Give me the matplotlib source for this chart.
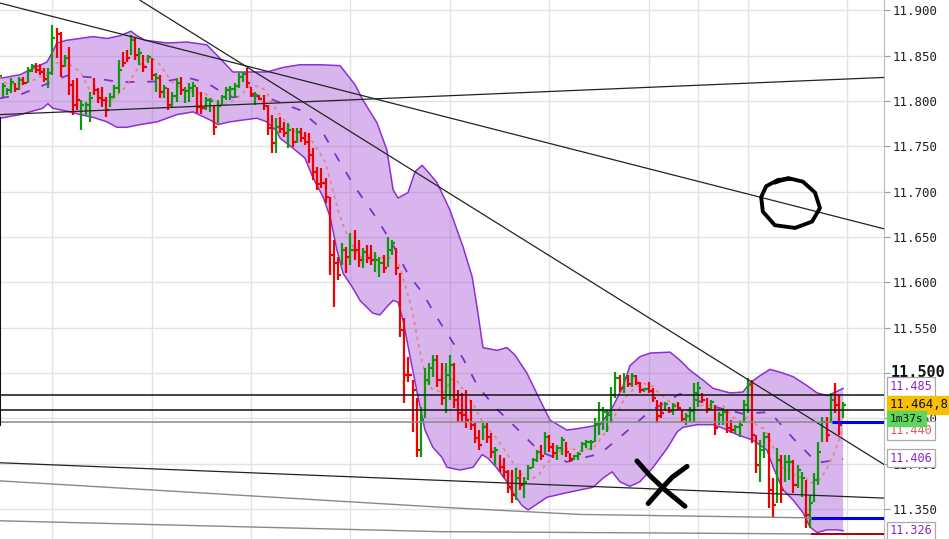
import numpy as np
import pandas as pd
import matplotlib
matplotlib.use("Agg")
import matplotlib.pyplot as plt
from matplotlib import transforms

plt.rcParams['font.family'] = ['DejaVu Sans Mono', 'DejaVu Sans']

# ---- OHLC bars (index k, the first one at k=-1 is cut by the left edge)
highs = [
    11.829, 11.820, 11.814, 11.825, 11.820, 11.826, 11.826, 11.837, 11.841, 11.842,
    11.841, 11.836, 11.836, 11.884, 11.880, 11.876, 11.851, 11.860, 11.823, 11.825,
    11.801, 11.799, 11.810, 11.825, 11.814, 11.815, 11.804, 11.809, 11.818, 11.845,
    11.854, 11.856, 11.873, 11.869, 11.858, 11.851, 11.851, 11.847, 11.831, 11.829,
    11.818, 11.814, 11.810, 11.825, 11.826, 11.815, 11.820, 11.821, 11.815, 11.810,
    11.804, 11.803, 11.796, 11.801, 11.807, 11.815, 11.817, 11.820, 11.831, 11.832,
    11.836, 11.815, 11.810, 11.807, 11.807, 11.796, 11.785, 11.781, 11.782, 11.777,
    11.776, 11.770, 11.770, 11.770, 11.766, 11.765, 11.748, 11.727, 11.726, 11.715,
    11.694, 11.647, 11.628, 11.643, 11.639, 11.654, 11.658, 11.647, 11.638, 11.641,
    11.641, 11.633, 11.628, 11.630, 11.650, 11.647, 11.638, 11.610, 11.561, 11.518,
    11.492, 11.472, 11.463, 11.506, 11.511, 11.520, 11.520, 11.511, 11.511, 11.520,
    11.511, 11.481, 11.478, 11.481, 11.470, 11.445, 11.437, 11.445, 11.445, 11.434,
    11.418, 11.410, 11.406, 11.393, 11.393, 11.395, 11.393, 11.385, 11.399, 11.406,
    11.415, 11.421, 11.435, 11.432, 11.423, 11.421, 11.429, 11.424, 11.412, 11.410,
    11.413, 11.424, 11.426, 11.426, 11.450, 11.468, 11.463, 11.459, 11.485, 11.501,
    11.498, 11.500, 11.498, 11.500, 11.498, 11.490, 11.483, 11.490, 11.483, 11.470,
    11.468, 11.468, 11.463, 11.467, 11.468, 11.459, 11.456, 11.463, 11.489, 11.490,
    11.478, 11.472, 11.470, 11.465, 11.457, 11.461, 11.459, 11.448, 11.443, 11.446,
    11.470, 11.494, 11.492, 11.432, 11.426, 11.435, 11.434, 11.384, 11.417, 11.410,
    11.410, 11.410, 11.404, 11.399, 11.391, 11.382, 11.365, 11.390, 11.424, 11.451,
    11.451, 11.478, 11.489, 11.476, 11.468,
]
lows = [
    11.823, 11.804, 11.807, 11.809, 11.810, 11.812, 11.818, 11.820, 11.832, 11.831,
    11.829, 11.821, 11.814, 11.829, 11.847, 11.826, 11.837, 11.807, 11.785, 11.790,
    11.768, 11.785, 11.777, 11.807, 11.798, 11.793, 11.782, 11.793, 11.803, 11.809,
    11.837, 11.843, 11.851, 11.845, 11.840, 11.832, 11.842, 11.823, 11.810, 11.803,
    11.803, 11.790, 11.793, 11.799, 11.807, 11.798, 11.799, 11.804, 11.787, 11.786,
    11.790, 11.788, 11.762, 11.776, 11.796, 11.801, 11.801, 11.804, 11.814, 11.821,
    11.814, 11.804, 11.796, 11.801, 11.790, 11.762, 11.743, 11.743, 11.765, 11.760,
    11.748, 11.749, 11.754, 11.755, 11.751, 11.732, 11.713, 11.702, 11.704, 11.688,
    11.608, 11.573, 11.603, 11.619, 11.610, 11.619, 11.625, 11.617, 11.616, 11.621,
    11.619, 11.611, 11.606, 11.610, 11.617, 11.630, 11.608, 11.540, 11.467, 11.490,
    11.435, 11.407, 11.407, 11.450, 11.487, 11.496, 11.485, 11.465, 11.456, 11.470,
    11.461, 11.446, 11.446, 11.439, 11.437, 11.423, 11.415, 11.426, 11.423, 11.406,
    11.399, 11.391, 11.384, 11.368, 11.357, 11.360, 11.371, 11.362, 11.382, 11.395,
    11.402, 11.404, 11.412, 11.413, 11.406, 11.404, 11.410, 11.407, 11.402, 11.404,
    11.404, 11.413, 11.417, 11.415, 11.424, 11.432, 11.437, 11.435, 11.446, 11.472,
    11.479, 11.478, 11.485, 11.485, 11.487, 11.478, 11.479, 11.478, 11.468, 11.445,
    11.450, 11.459, 11.456, 11.454, 11.459, 11.446, 11.443, 11.446, 11.446, 11.463,
    11.467, 11.456, 11.459, 11.432, 11.443, 11.443, 11.434, 11.434, 11.434, 11.429,
    11.445, 11.456, 11.423, 11.390, 11.380, 11.406, 11.351, 11.341, 11.357, 11.357,
    11.380, 11.382, 11.368, 11.373, 11.363, 11.329, 11.329, 11.358, 11.376, 11.424,
    11.424, 11.445, 11.456, 11.432, 11.450,
]
closes = [
    11.828, 11.817, 11.812, 11.821, 11.813, 11.823, 11.820, 11.833, 11.839, 11.834,
    11.832, 11.824, 11.831, 11.869, 11.874, 11.839, 11.847, 11.818, 11.796, 11.801,
    11.796, 11.796, 11.803, 11.812, 11.803, 11.801, 11.790, 11.804, 11.814, 11.834,
    11.842, 11.847, 11.867, 11.851, 11.853, 11.837, 11.848, 11.829, 11.825, 11.810,
    11.814, 11.796, 11.806, 11.820, 11.812, 11.811, 11.814, 11.817, 11.793, 11.792,
    11.801, 11.800, 11.771, 11.795, 11.804, 11.812, 11.813, 11.817, 11.826, 11.830,
    11.820, 11.808, 11.807, 11.802, 11.795, 11.770, 11.754, 11.771, 11.769, 11.765,
    11.768, 11.755, 11.766, 11.759, 11.755, 11.740, 11.722, 11.708, 11.710, 11.694,
    11.630, 11.621, 11.608, 11.636, 11.628, 11.636, 11.636, 11.625, 11.633, 11.627,
    11.625, 11.625, 11.621, 11.616, 11.636, 11.643, 11.616, 11.547, 11.498, 11.498,
    11.481, 11.415, 11.448, 11.492, 11.506, 11.514, 11.492, 11.472, 11.498, 11.509,
    11.470, 11.456, 11.454, 11.448, 11.443, 11.428, 11.421, 11.440, 11.429, 11.413,
    11.415, 11.396, 11.391, 11.374, 11.365, 11.384, 11.376, 11.380, 11.395, 11.404,
    11.413, 11.408, 11.429, 11.418, 11.412, 11.417, 11.426, 11.413, 11.405, 11.408,
    11.411, 11.422, 11.424, 11.424, 11.444, 11.459, 11.457, 11.454, 11.476, 11.494,
    11.483, 11.494, 11.488, 11.497, 11.489, 11.481, 11.482, 11.480, 11.472, 11.453,
    11.456, 11.466, 11.458, 11.464, 11.461, 11.449, 11.453, 11.458, 11.478, 11.483,
    11.470, 11.460, 11.468, 11.439, 11.454, 11.457, 11.439, 11.437, 11.440, 11.443,
    11.465, 11.487, 11.432, 11.399, 11.415, 11.429, 11.371, 11.354, 11.404, 11.371,
    11.402, 11.402, 11.376, 11.393, 11.384, 11.343, 11.357, 11.382, 11.413, 11.446,
    11.432, 11.470, 11.465, 11.443, 11.465,
]
# G = up bar, R = down bar
bar_dir = ("GGGGRGRGGR" "RRGGRRGRRR" "GGGRRRRGGG" "RRGRGRGRGR" "GRGGRGGGRR"
           "GGRGGGGGGG" "RRGRRRRGRR" "GRGRRRRRRR" "RRRGRGRRGR" "RGGRGGRRRR"
           "RRGGGGRRGG" "RRRRRRRGRR" "GRRRRGRGGG" "GRGRRGGRRG" "GGGGGGGGGG"
           "RGRGRRGRRR" "RGRGRRGGGG" "RRGRGGRRGG" "GGRRGGRRGR" "GGRGGRGGGG"
           "RGRRG")

# ---- Bollinger band
upper_k = [-0.65, 4.2, 7.3, 10.7, 11.9, 13.1, 15.5, 18.7, 21.8, 25.2,
           28.3, 31.0, 32.4, 34.4, 39.7, 44.5, 49.3, 52.5, 55.6, 59.7,
           63.8, 67.7, 71.8, 76.6, 81.5, 85.1, 87.0, 90.4, 92.8, 94.3,
           95.5, 97.9, 99.6, 101.3, 102.7, 104.9, 108.0, 111.2, 113.4, 114.8,
           116.0, 119.4, 121.8, 123.7, 126.6, 129.8, 132.2, 136.3, 139.4, 144.3,
           147.4, 149.8, 151.5, 153.9, 156.4, 161.2, 163.6, 166.0, 169.2, 171.6,
           175.7, 178.8, 180.5, 182.9, 185.3, 187.7, 190.9, 194.3, 196.7, 199.3,
           203.0]
upper = [11.825, 11.829, 11.836, 11.843, 11.853, 11.864, 11.867, 11.869, 11.871, 11.869,
         11.872, 11.877, 11.872, 11.867, 11.864, 11.865, 11.862, 11.847, 11.832, 11.832,
         11.832, 11.837, 11.840, 11.840, 11.839, 11.818, 11.801, 11.776, 11.746, 11.702,
         11.693, 11.699, 11.722, 11.729, 11.722, 11.710, 11.680, 11.639, 11.606, 11.566,
         11.528, 11.525, 11.528, 11.520, 11.500, 11.470, 11.448, 11.437, 11.439, 11.443,
         11.463, 11.485, 11.508, 11.518, 11.522, 11.523, 11.514, 11.503, 11.492, 11.483,
         11.478, 11.479, 11.489, 11.497, 11.504, 11.501, 11.496, 11.486, 11.478, 11.475,
         11.483]
lower_k = [-0.65, 4.2, 9.7, 10.9, 12.1, 16.3, 18.7, 21.8, 25.2, 27.6,
           30.0, 33.2, 37.3, 42.1, 46.0, 50.1, 52.0, 54.9, 58.0, 61.4,
           63.8, 66.3, 67.0, 70.1, 73.0, 74.9, 77.4, 79.1, 80.7, 82.2,
           84.4, 86.3, 89.4, 91.1, 92.8, 94.3, 95.5, 96.7, 98.4, 100.3,
           102.0, 103.9, 106.1, 107.3, 110.4, 113.6, 115.8, 117.2, 119.4, 121.8,
           123.2, 125.4, 126.9, 128.6, 131.5, 136.3, 139.4, 142.6, 145.0, 147.2,
           149.1, 151.5, 153.9, 157.1, 160.5, 162.9, 164.3, 167.7, 171.6, 174.0,
           177.4, 181.2, 184.6, 186.1, 188.5, 190.9, 193.3, 195.0, 196.7, 199.1,
           201.5, 203.0]
lower = [11.781, 11.785, 11.792, 11.797, 11.792, 11.788, 11.785, 11.782, 11.777, 11.771,
         11.771, 11.774, 11.777, 11.785, 11.788, 11.779, 11.774, 11.777, 11.779, 11.781,
         11.777, 11.766, 11.759, 11.748, 11.737, 11.716, 11.694, 11.672, 11.636, 11.610,
         11.595, 11.580, 11.566, 11.564, 11.573, 11.580, 11.578, 11.558, 11.518, 11.474,
         11.437, 11.418, 11.407, 11.396, 11.393, 11.396, 11.410, 11.406, 11.395, 11.380,
         11.368, 11.354, 11.349, 11.354, 11.363, 11.368, 11.371, 11.374, 11.384, 11.391,
         11.380, 11.375, 11.380, 11.396, 11.417, 11.435, 11.440, 11.443, 11.443, 11.439,
         11.432, 11.426, 11.415, 11.396, 11.371, 11.360, 11.346, 11.330, 11.324, 11.327,
         11.327, 11.326]
mid_k = [-0.65, 4.2, 10.7, 15.5, 18.7, 21.8, 25.2, 28.3, 33.2, 39.7,
         44.5, 49.3, 52.5, 55.6, 59.7, 63.8, 67.7, 71.8, 76.6, 81.5,
         85.1, 90.4, 94.3, 97.9, 101.3, 104.9, 108.0, 111.2, 114.8, 119.4,
         123.7, 129.8, 136.3, 144.3, 149.8, 156.4, 163.6, 171.6, 178.8, 185.3,
         190.9, 196.7, 203.0]
mid = [11.803, 11.807, 11.819, 11.828, 11.827, 11.826, 11.823, 11.821, 11.821, 11.822,
       11.826, 11.820, 11.811, 11.804, 11.806, 11.804, 11.797, 11.790, 11.771, 11.732,
       11.705, 11.670, 11.641, 11.609, 11.589, 11.561, 11.539, 11.516, 11.485, 11.460,
       11.441, 11.413, 11.402, 11.411, 11.432, 11.458, 11.477, 11.463, 11.455, 11.457,
       11.428, 11.401, 11.405]

# ---- drawn lines (bar index, price)
fan1_k, fan1_p = [-0.65, 212.9], [11.908, 11.659]
fan2_k, fan2_p = [33.2, 212.9], [11.911, 11.399]
top_k, top_p = [-0.65, 212.9], [11.785, 11.826]
low1_k, low1_p = [-0.65, 212.9], [11.401, 11.362]
low2_k, low2_p = [-0.65, 105.6, 139.4, 212.9], [11.381, 11.352, 11.344, 11.339]
low3_k, low3_p = [-0.65, 105.6, 212.9], [11.337, 11.325, 11.322]
level_black = [11.4757, 11.459]
level_gray = 11.446
grid_k = [12, 36, 60, 84, 108, 132, 156, 168, 180, 204]
yticks = [11.35, 11.40, 11.45, 11.50, 11.55, 11.60, 11.65, 11.70, 11.75, 11.80, 11.85, 11.90]

# hand drawn marks
circle_k = [186.5, 189.7, 193.3, 196.2, 197.4, 195.5, 191.4, 186.5, 183.6, 183.2, 184.4, 187.3, 190.2]
circle_p = [11.710, 11.715, 11.711, 11.699, 11.682, 11.667, 11.660, 11.663, 11.678, 11.694, 11.706, 11.713, 11.714]
cross1_k, cross1_p = [153.2, 156.3, 160.0, 164.8], [11.403, 11.387, 11.371, 11.353]
cross2_k, cross2_p = [165.3, 161.7, 158.8, 155.9], [11.397, 11.385, 11.371, 11.356]

n = len(closes)
x = np.arange(n) - 1
cols = ['#0c990c' if d == 'G' else '#f00000' for d in bar_dir]
ma8 = pd.Series(closes).rolling(8, min_periods=1).mean()

fig = plt.figure(figsize=(9.49, 5.39), dpi=100)
ax = fig.add_axes([0, 0, 884 / 949, 1])
ax.set_xlim(-0.652, 212.87)
ax.set_ylim(11.3169, 11.9114)

# grid
for g in grid_k:
    ax.axvline(g, color='#e3e3e3', lw=1, zorder=0)
for t in yticks:
    ax.axhline(t, color='#e3e3e3', lw=1, zorder=0)

# band
ax.fill(np.concatenate([upper_k, lower_k[::-1]]), np.concatenate([upper, lower[::-1]]),
        color='#9a3fd0', alpha=0.38, lw=0, zorder=1)
ax.plot(upper_k, upper, color='#8e2fd2', lw=1.1, zorder=2)
ax.plot(lower_k, lower, color='#8e2fd2', lw=1.1, zorder=2)
ax.plot(mid_k, mid, color='#8030c8', lw=1.3, ls=(0, (5, 7)), zorder=2)
ax.plot(x, ma8, color='#e8837a', lw=1.2, ls=(0, (2, 2.5)), zorder=3)

# bars
ax.vlines(x, lows, highs, colors=cols, lw=1.6, zorder=4)
ax.hlines(closes, x, x + 0.75, colors=cols, lw=1.6, zorder=4)

# drawn lines
for kk, pp in [(fan1_k, fan1_p), (fan2_k, fan2_p), (top_k, top_p), (low1_k, low1_p)]:
    ax.plot(kk, pp, color='#222222', lw=0.9, zorder=5)
ax.plot(low2_k, low2_p, color='#888888', lw=1.0, zorder=5)
ax.plot(low3_k, low3_p, color='#888888', lw=1.0, zorder=5)
for lv in level_black:
    ax.axhline(lv, color='#111111', lw=1.1, zorder=5)
ax.axhline(level_gray, color='#888888', lw=1.1, zorder=5)
ax.plot([-0.55, -0.55], [11.781, 11.443], color='#111111', lw=1.5, zorder=5)
ax.hlines(11.446, 200.3, 212.87, color='#0000ee', lw=2.2, zorder=6)
ax.hlines(11.340, 195.2, 212.87, color='#0000ee', lw=2.2, zorder=6)
ax.hlines(11.322, 195.2, 212.87, color='#b00000', lw=1.4, zorder=6)

# pen marks
ax.plot(circle_k, circle_p, color='black', lw=2.8, solid_capstyle='round', solid_joinstyle='round', zorder=7)
ax.plot(cross1_k, cross1_p, color='black', lw=3.6, solid_capstyle='round', zorder=7)
ax.plot(cross2_k, cross2_p, color='black', lw=3.6, solid_capstyle='round', zorder=7)

# axes look
for s in ['top', 'bottom', 'left']:
    ax.spines[s].set_visible(False)
ax.spines['right'].set_color('#bbbbbb')
ax.set_xticks([])
ax.yaxis.tick_right()
ax.set_yticks(yticks)
ax.set_yticklabels(['' if abs(t - 11.5) < 1e-9 else '%.3f' % t for t in yticks])
ax.tick_params(axis='y', length=4, color='#999999', labelsize=9, pad=2, labelcolor='#222222')

trans = transforms.blended_transform_factory(ax.transAxes, ax.transData)
ax.text(1.0075, 11.5, '11.500', transform=trans, fontsize=11, fontweight='bold',
        va='center', ha='left', color='#111111', clip_on=False, zorder=9)


def tag(y, s, fg, bg, ec, xpos=1.0065, size=8.6, z=10):
    ax.text(xpos, y, s, transform=trans, fontsize=size, va='center', ha='left', color=fg,
            clip_on=False, zorder=z,
            bbox=dict(boxstyle='square,pad=0.22', fc=bg, ec=ec, lw=0.9))


tag(11.485, '11.485', '#8e24c8', 'white', '#aaaaaa')
tag(11.4365, '11.440', '#e25a5a', 'white', '#aaaaaa', z=10)
tag(11.4648, '11.464,8', '#111111', '#f6bf00', '#f6bf00', size=8.8, z=11)
tag(11.4495, '1m37s', '#111111', '#5cd65c', '#5cd65c', size=8.0, z=12)
tag(11.406, '11.406', '#8e24c8', 'white', '#aaaaaa')
tag(11.326, '11.326', '#8e24c8', 'white', '#aaaaaa')

fig.savefig('out.png', dpi=100)
